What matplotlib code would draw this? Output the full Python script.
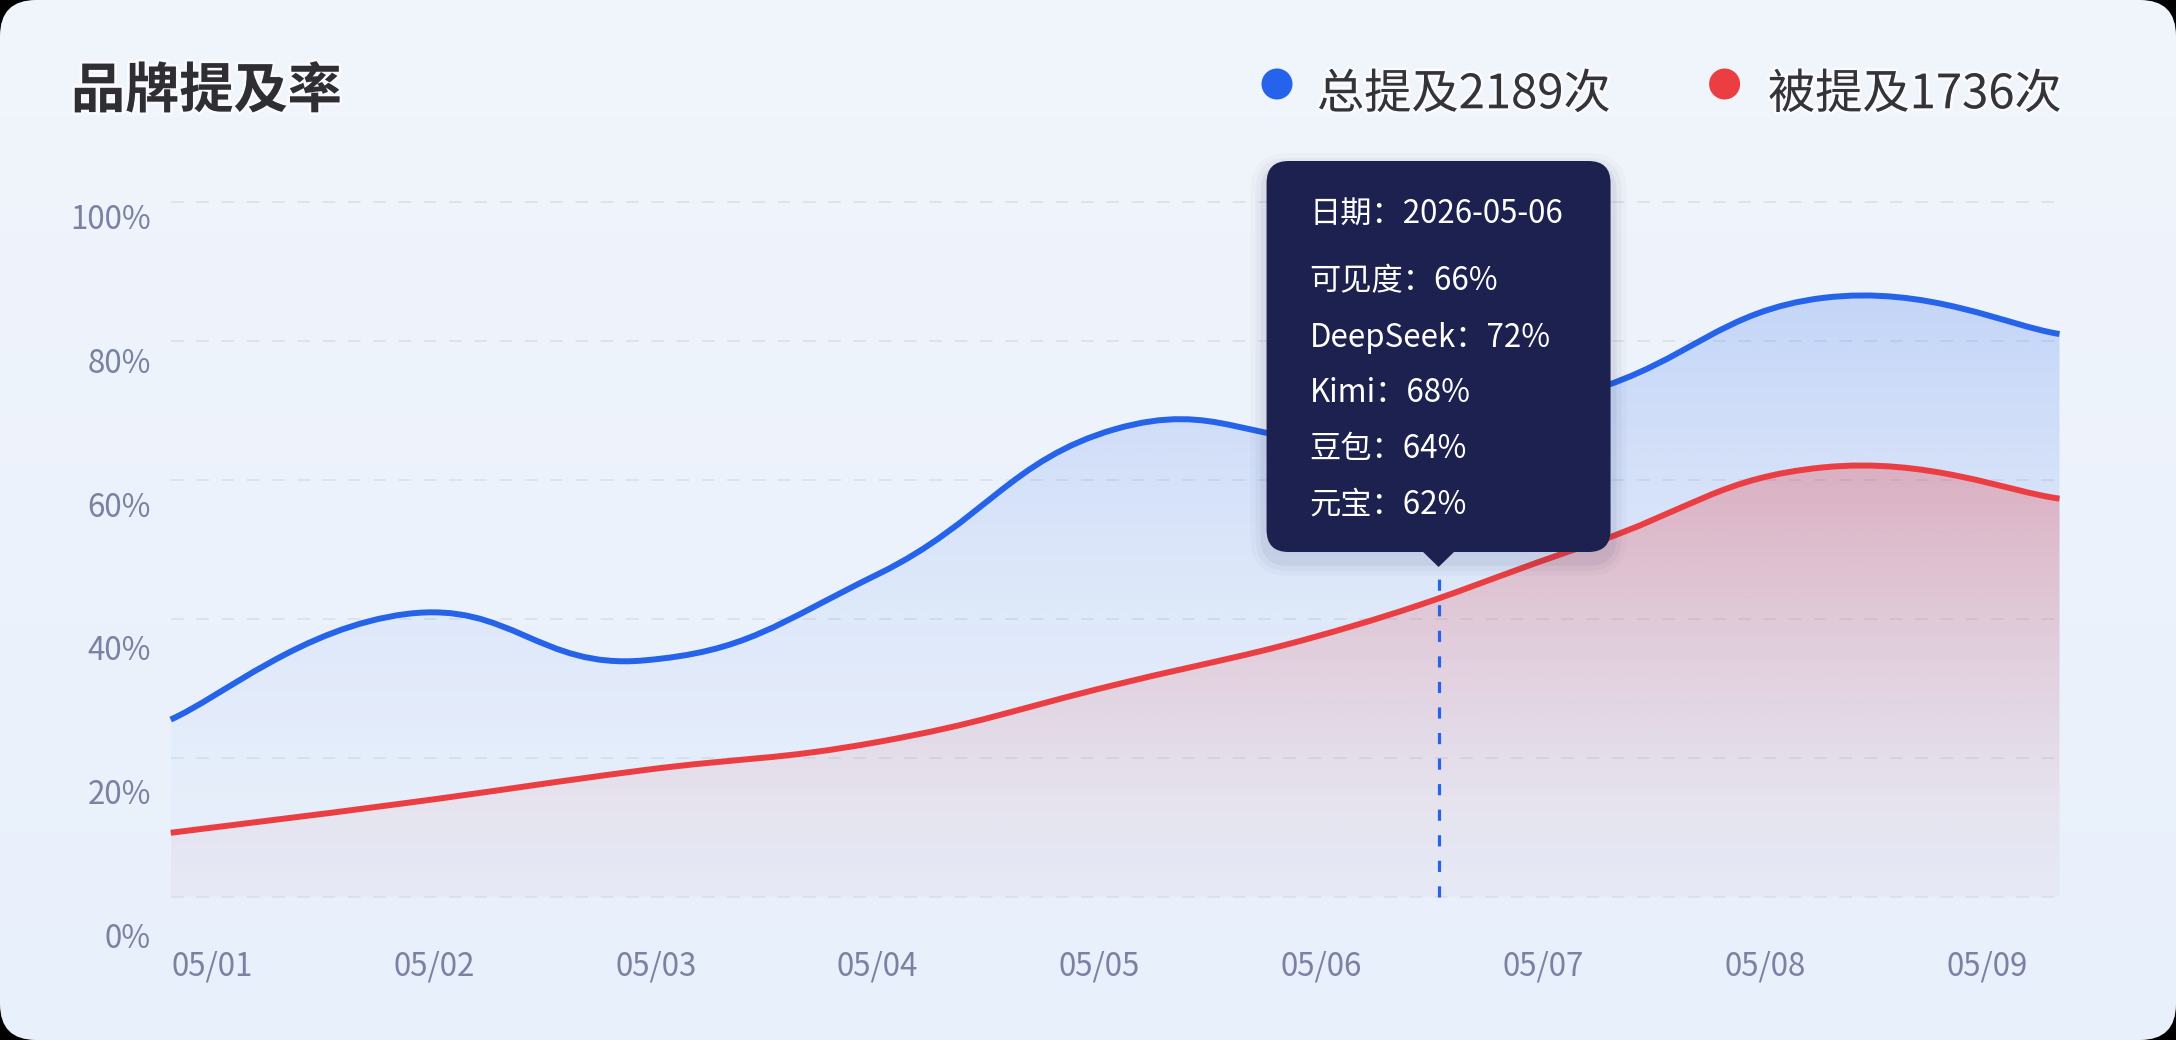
import numpy as np
import matplotlib
matplotlib.use("Agg")
import matplotlib.pyplot as plt
from matplotlib.path import Path
from matplotlib.patches import PathPatch, FancyBboxPatch, Polygon, Circle
import matplotlib.patheffects as pe

plt.rcParams['font.family'] = ['Noto Sans CJK SC', 'DejaVu Sans']

# ---------------- data ----------------
title = "品牌提及率"
dates = ["05/01", "05/02", "05/03", "05/04", "05/05", "05/06", "05/07", "05/08", "05/09"]
total_mention = [25.5, 40.7, 34, 46.5, 67.3, 66, 72.7, 86.2, 81]   # 总提及
mentioned = [9.2, 13.5, 18.2, 22.3, 30.5, 38.9, 50.6, 61.8, 57.3]   # 被提及
series_names = ["总提及2189次", "被提及1736次"]
y_ticks = [0, 20, 40, 60, 80, 100]
y_tick_labels = ["0%", "20%", "40%", "60%", "80%", "100%"]
hover_x = 5.37
tooltip_date = "2026-05-06"
tooltip_labels = ["可见度", "DeepSeek", "Kimi", "豆包", "元宝"]
tooltip_values = [66, 72, 68, 64, 62]

BLUE = "#2563eb"
RED = "#ea3e42"
NAVY = "#1c2150"
W, H = 2176, 1040

fig = plt.figure(figsize=(W / 100, H / 100), dpi=100)
fig.patch.set_facecolor("black")

# ---------------- background card ----------------
bg = fig.add_axes([0, 0, 1, 1])
bg.set_xlim(0, W)
bg.set_ylim(0, H)
bg.axis("off")
card = FancyBboxPatch((0, 0), W, H, boxstyle="round,pad=0,rounding_size=36",
                      fc="none", ec="none")
bg.add_patch(card)
t = np.linspace(0, 1, 256)[:, None]
top_c = np.array([241, 245, 251]) / 255
bot_c = np.array([232, 240, 252]) / 255
grad = top_c[None, None, :] * (1 - t[..., None]) + bot_c[None, None, :] * t[..., None]
grad = np.repeat(grad, 2, axis=1)
im = bg.imshow(grad, extent=[0, W, 0, H], origin="upper", aspect="auto",
               interpolation="bilinear", zorder=0)
im.set_clip_path(card)
bg.set_xlim(0, W)
bg.set_ylim(0, H)

# ---------------- main plot axes ----------------
pxu = (896.7 - 202) / 100.0
ax_l, ax_r = 170.7, 2059.5
ax_b = 896.7 + 0.5 * pxu
ax_t = 202 - 0.5 * pxu
ax = fig.add_axes([ax_l / W, (H - ax_b) / H, (ax_r - ax_l) / W, (ax_b - ax_t) / H])
ax.patch.set_visible(False)
for s in ax.spines.values():
    s.set_visible(False)
ax.set_yticks(y_ticks)
ax.set_xticks([])
ax.tick_params(length=0, labelleft=False, labelbottom=False)
ax.grid(axis="y", color="#dce2ec", linewidth=1.3, linestyle=(0, (7, 7)))
ax.set_axisbelow(True)

xs = np.arange(len(dates), dtype=float)


def smooth_verts(x, y, k=0.22):
    n = len(x)
    verts = [(x[0], y[0])]
    codes = [Path.MOVETO]
    for i in range(n - 1):
        p0 = i - 1 if i > 0 else i
        p3 = i + 2 if i + 2 < n else i + 1
        c1 = (x[i] + k * (x[i + 1] - x[p0]), y[i] + k * (y[i + 1] - y[p0]))
        c2 = (x[i + 1] - k * (x[p3] - x[i]), y[i + 1] - k * (y[p3] - y[i]))
        verts += [c1, c2, (x[i + 1], y[i + 1])]
        codes += [Path.CURVE4] * 3
    return verts, codes


def draw_series(vals, color, a_top, a_bot, power, z):
    v, c = smooth_verts(xs, np.asarray(vals, float))
    area = Path(v + [(xs[-1], 0), (xs[0], 0), (xs[0], vals[0])],
                c + [Path.LINETO, Path.LINETO, Path.CLOSEPOLY])
    clip = PathPatch(area, fc="none", ec="none", transform=ax.transData)
    ax.add_patch(clip)
    rgb = np.array(matplotlib.colors.to_rgb(color))
    tt = np.linspace(0, 1, 256)
    a = a_bot + (a_top - a_bot) * (1 - tt) ** power
    img = np.zeros((256, 2, 4))
    img[..., :3] = rgb
    img[..., 3] = a[:, None]
    gi = ax.imshow(img, extent=[0, 8, 0, max(vals)], origin="upper", aspect="auto",
                   interpolation="bilinear", zorder=z)
    gi.set_clip_path(clip)
    line = PathPatch(Path(v, c), fc="none", ec=color, lw=4.3, capstyle="butt",
                     joinstyle="round", clip_on=False, zorder=z + 3)
    ax.add_patch(line)


draw_series(total_mention, BLUE, 0.21, 0.015, 1.8, 1)
draw_series(mentioned, RED, 0.30, 0.025, 1.3, 2)
ax.set_xlim(0, 8)
ax.set_ylim(-0.5, 100.5)

# ---------------- tick labels axes ----------------
lab_l, lab_r = 212.0, 1987.0
lab_b, lab_t = 935.0, 216.7
lax = fig.add_axes([lab_l / W, (H - lab_b) / H, (lab_r - lab_l) / W, (lab_b - lab_t) / H])
lax.patch.set_visible(False)
for s in lax.spines.values():
    s.set_visible(False)
lax.set_xlim(0, 8)
lax.set_ylim(0, 100)
lax.set_xticks(xs)
lax.set_xticklabels(dates)
lax.set_yticks(y_ticks)
lax.set_yticklabels(y_tick_labels)
lax.tick_params(axis="both", length=0, labelsize=22.5, labelcolor="#7a81a1")
lax.tick_params(axis="x", pad=(966.7 - 935) * 0.72)
lax.tick_params(axis="y", pad=(lab_l - 151) * 0.72)
for tl in lax.get_xticklabels():
    tl.set_verticalalignment("center")

# ---------------- overlay: title, legend, tooltip ----------------
ov = fig.add_axes([0, 0, 1, 1])
ov.set_xlim(0, W)
ov.set_ylim(0, H)
ov.axis("off")
ov.patch.set_visible(False)

halo = [pe.withStroke(linewidth=4, foreground="white", alpha=0.6)]
ov.text(71, H - 92, title, fontsize=39, fontweight="bold", color="#2f2f33",
        va="center", ha="left", zorder=10, path_effects=halo)
legend_dot_x = [1277, 1724.6]
legend_text_x = [1317, 1768]
for nm, col, dx, tx in zip(series_names, [BLUE, RED], legend_dot_x, legend_text_x):
    ov.add_patch(Circle((dx, H - 84), 15.5, fc=col, ec="none", zorder=10))
    ov.text(tx, H - 95, nm, fontsize=34, color="#333338", va="center", ha="left",
            zorder=10, path_effects=halo)

xpix = ax.transData.transform((hover_x, 0))[0]
tip_y = H - 567
ov.plot([xpix, xpix], [H - 896.7, tip_y - 12], color=BLUE, lw=2.3,
        linestyle=(0, (3.5, 4.5)), zorder=8)

box_l, box_w = xpix - 172, 344
box_b, box_h = H - 552, 391
for grow, al in [(16, 0.025), (11, 0.035), (6, 0.05)]:
    sh = FancyBboxPatch((box_l - grow, box_b - grow - 8), box_w + 2 * grow, box_h + 2 * grow,
                        boxstyle="round,pad=0,rounding_size=%d" % (22 + grow),
                        fc=NAVY, ec="none", alpha=al, zorder=11)
    ov.add_patch(sh)
box = FancyBboxPatch((box_l, box_b), box_w, box_h, boxstyle="round,pad=0,rounding_size=22",
                     fc=NAVY, ec="none", zorder=12)
ov.add_patch(box)
ov.add_patch(Polygon([(xpix - 16.5, box_b + 1), (xpix + 16.5, box_b + 1), (xpix, tip_y)],
                     closed=True, fc=NAVY, ec="none", zorder=12))

tx = xpix - 129
ov.text(tx, H - 214.5, "日期：" + tooltip_date, fontsize=22.5, color="white",
        va="center", ha="left", zorder=13)
row_y = [281, 337.5, 393.5, 449, 505]
for lab, val, yy in zip(tooltip_labels, tooltip_values, row_y):
    ov.text(tx, H - yy, f"{lab}：{val}%", fontsize=22.5, color="white",
            va="center", ha="left", zorder=13)

fig.savefig("out.png", dpi=100, facecolor=fig.get_facecolor())
